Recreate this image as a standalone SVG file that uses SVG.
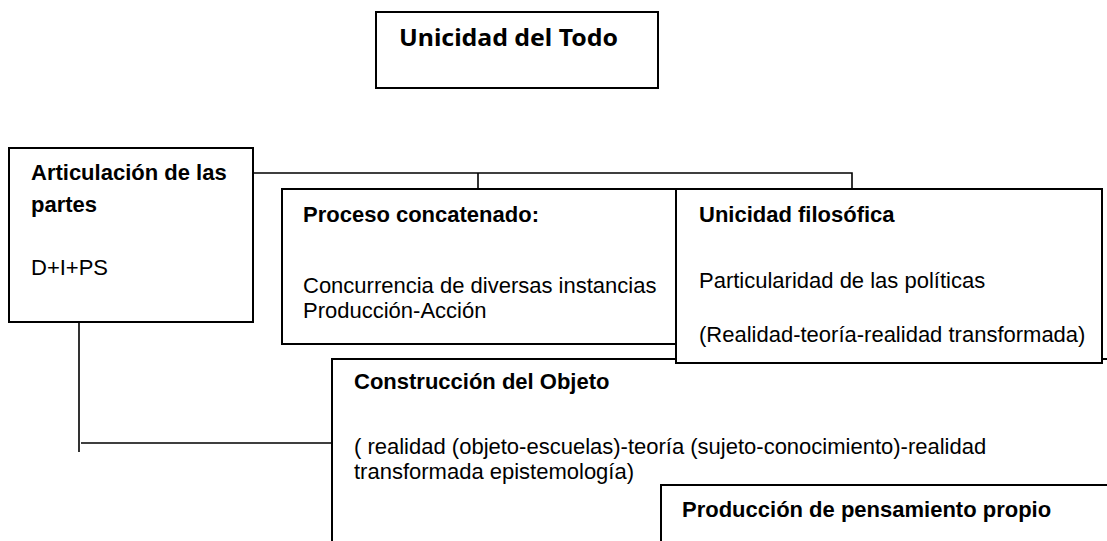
<svg xmlns="http://www.w3.org/2000/svg" width="1107" height="541" viewBox="0 0 1107 541">
<style>
.box{fill:#fff;stroke:#000;stroke-width:2}
.ln{fill:none;stroke:#000;stroke-width:1.6}
.t{font-family:"Liberation Sans",Arial,sans-serif;font-size:22px;fill:#000}
.b{font-weight:bold}
.h{font-family:"Noto Sans","Open Sans",sans-serif;font-weight:bold;font-size:24px;fill:#000}
</style>
<rect width="1107" height="541" fill="#fff"/>
<g id="n-unicidad-todo">
<rect class="box" x="376" y="12" width="282" height="76"/>
<text class="h" x="399" y="46" textLength="219" lengthAdjust="spacingAndGlyphs">Unicidad del Todo</text>
</g>
<g id="connectors">
<path class="ln" d="M253 173H852V189M478 173V189"/>
<path class="ln" d="M79 322V452M81 443H332"/>
</g>
<g id="n-articulacion">
<rect class="box" x="9" y="148" width="244" height="174"/>
<text class="t b" x="31" y="180">Articulación de las</text>
<text class="t b" x="31" y="212">partes</text>
<text class="t" x="31" y="275">D+I+PS</text>
</g>
<g id="n-proceso">
<rect class="box" x="282" y="189" width="394" height="155"/>
<text class="t b" x="303" y="222">Proceso concatenado:</text>
<text class="t" x="303" y="293">Concurrencia de diversas instancias</text>
<text class="t" x="303" y="318">Producción-Acción</text>
</g>
<g id="n-construccion">
<rect class="box" x="332" y="359" width="800" height="300"/>
<text class="t b" x="354" y="389">Construcción del Objeto</text>
<text class="t" x="354" y="454">( realidad (objeto-escuelas)-teoría (sujeto-conocimiento)-realidad</text>
<text class="t" x="354" y="479">transformada epistemología)</text>
</g>
<g id="n-unicidad-filosofica">
<rect class="box" x="676" y="189" width="426" height="174"/>
<text class="t b" x="699" y="222">Unicidad filosófica</text>
<text class="t" x="699" y="288">Particularidad de las políticas</text>
<text class="t" x="699" y="342">(Realidad-teoría-realidad transformada)</text>
</g>
<g id="n-produccion">
<rect class="box" x="661" y="485" width="500" height="100"/>
<text class="t b" x="682" y="517">Producción de pensamiento propio</text>
</g>
</svg>
